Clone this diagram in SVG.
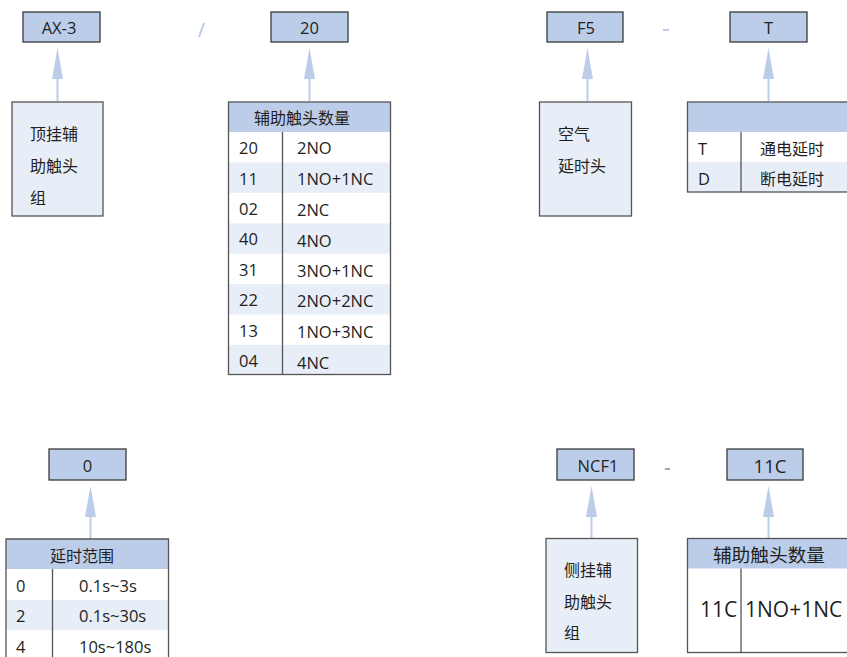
<svg xmlns="http://www.w3.org/2000/svg" width="847" height="657" viewBox="0 0 847 657">
<defs>
<style>
text{font-family:"Open Sans","Noto Sans CJK SC",sans-serif;fill:#231f20;font-size:16.5px;dominant-baseline:central}
.zh{font-family:"Noto Sans CJK SC",sans-serif;font-size:16px}
.c{text-anchor:middle}
.code{fill:#bccdea;stroke:#3a3a3a;stroke-width:1.3}
.note{fill:#e8eef8;stroke:#555;stroke-width:1.3}
.hdr{fill:#bccdea}
.alt{fill:#e8eef8}
.frame{fill:none;stroke:#555;stroke-width:1.3}
.div{stroke:#555;stroke-width:1.3}
.arr{stroke:#bccdea;stroke-width:2;fill:none}
.head{fill:#bccdea}
.big{font-size:21px}
.bigh{font-size:18.5px}
</style>
</defs>
<rect width="847" height="657" fill="#fff"/>

<g id="connectors">
<line class="arr" x1="57.5" y1="78" x2="57.5" y2="101"/><polygon class="head" points="57.5,48 52,79 63,79"/>
<line class="arr" x1="309.5" y1="78" x2="309.5" y2="101"/><polygon class="head" points="309.5,48 304,79 315,79"/>
<line class="arr" x1="587.5" y1="78" x2="587.5" y2="101"/><polygon class="head" points="587.5,48 582,79 593,79"/>
<line class="arr" x1="768.5" y1="78" x2="768.5" y2="101"/><polygon class="head" points="768.5,48 763,79 774,79"/>
<line class="arr" x1="90.5" y1="516" x2="90.5" y2="539"/><polygon class="head" points="90.5,486 85,517 96,517"/>
<line class="arr" x1="591.5" y1="516" x2="591.5" y2="538"/><polygon class="head" points="591.5,486 586,517 597,517"/>
<line class="arr" x1="768.5" y1="516" x2="768.5" y2="538"/><polygon class="head" points="768.5,486 763,517 774,517"/>
</g>

<g id="separators">
<line x1="199" y1="37" x2="204" y2="23" stroke="#bccdea" stroke-width="2"/>
<line x1="663" y1="30" x2="669" y2="30" stroke="#bccdea" stroke-width="2"/>
<line x1="665" y1="469" x2="670" y2="469" stroke="#555" stroke-width="1"/>
</g>

<g id="code-ax3"><rect class="code" x="23" y="12" width="77" height="30"/><text class="c" x="59" y="27">AX-3</text></g>
<g id="code-20"><rect class="code" x="271" y="12" width="77" height="30"/><text class="c" x="309.5" y="27">20</text></g>
<g id="code-f5"><rect class="code" x="547" y="12" width="76" height="30"/><text class="c" x="586" y="27">F5</text></g>
<g id="code-t"><rect class="code" x="730" y="12" width="77" height="30"/><text class="c" x="768.5" y="27">T</text></g>
<g id="code-0"><rect class="code" x="49" y="449" width="77" height="31"/><text class="c" x="87.5" y="465">0</text></g>
<g id="code-ncf1"><rect class="code" x="557" y="449" width="77" height="31"/><text class="c" x="598" y="465">NCF1</text></g>
<g id="code-11c"><rect class="code" x="727" y="449" width="76" height="31"/><text class="c bigh" x="770" y="465">11C</text></g>

<g id="note-top-aux">
<rect class="note" x="12" y="102" width="91" height="114"/>
<text class="zh" x="30" y="133">顶挂辅</text><text class="zh" x="30" y="165">助触头</text><text class="zh" x="30" y="197">组</text>
</g>

<g id="table-aux-count">
<rect class="hdr" x="228.5" y="102" width="162" height="30"/>
<rect class="alt" x="228.5" y="162.5" width="162" height="30.4"/>
<rect class="alt" x="228.5" y="223.3" width="162" height="30.4"/>
<rect class="alt" x="228.5" y="284.1" width="162" height="30.4"/>
<rect class="alt" x="228.5" y="344.9" width="162" height="29.6"/>
<rect class="frame" x="228.5" y="102" width="162" height="272.5"/>
<line class="div" x1="282.5" y1="132" x2="282.5" y2="374.5"/>
<text class="zh c" x="302" y="117">辅助触头数量</text>
<text x="239" y="147">20</text><text x="297" y="147">2NO</text>
<text x="239" y="178">11</text><text x="297" y="178">1NO+1NC</text>
<text x="239" y="208">02</text><text x="297" y="209">2NC</text>
<text x="239" y="238">40</text><text x="297" y="240">4NO</text>
<text x="239" y="269">31</text><text x="297" y="270">3NO+1NC</text>
<text x="239" y="299">22</text><text x="297" y="300">2NO+2NC</text>
<text x="239" y="330">13</text><text x="297" y="331">1NO+3NC</text>
<text x="239" y="360">04</text><text x="297" y="362">4NC</text>
</g>

<g id="note-air-delay">
<rect class="note" x="539.5" y="102" width="92" height="114"/>
<text class="zh" x="558" y="133">空气</text><text class="zh" x="558" y="165">延时头</text>
</g>

<g id="table-delay-type">
<rect class="hdr" x="687.5" y="102" width="170" height="30"/>
<rect class="alt" x="687.5" y="162" width="170" height="30"/>
<rect class="frame" x="687.5" y="102" width="170" height="90"/>
<line class="div" x1="741" y1="132" x2="741" y2="192"/>
<text x="698" y="148">T</text><text class="zh" x="760" y="148">通电延时</text>
<text x="698" y="178">D</text><text class="zh" x="760" y="178">断电延时</text>
</g>

<g id="table-delay-range">
<rect class="hdr" x="6" y="539" width="162.5" height="30"/>
<rect class="alt" x="6" y="600" width="162.5" height="30"/>
<path class="frame" d="M6,665 V539 H168.5 V665"/>
<line class="div" x1="52.5" y1="569" x2="52.5" y2="665"/>
<text class="zh c" x="82" y="555">延时范围</text>
<text x="16" y="585">0</text><text x="79" y="585">0.1s~3s</text>
<text x="16" y="615">2</text><text x="79" y="615">0.1s~30s</text>
<text x="16" y="646">4</text><text x="79" y="646">10s~180s</text>
</g>

<g id="note-side-aux">
<rect class="note" x="546" y="538.5" width="91.5" height="114"/>
<text class="zh" x="564" y="569">侧挂辅</text><text class="zh" x="564" y="601">助触头</text><text class="zh" x="564" y="632">组</text>
</g>

<g id="table-side-count">
<rect class="hdr" x="687.5" y="538.5" width="170" height="30"/>
<rect class="frame" x="687.5" y="538.5" width="170" height="114"/>
<line class="div" x1="741" y1="568.5" x2="741" y2="652.5"/>
<text class="zh c" x="769" y="553" style="font-size:18.7px">辅助触头数量</text>
<text class="big" x="700" y="609">11C</text><text class="big" x="745" y="609">1NO+1NC</text>
</g>
</svg>
